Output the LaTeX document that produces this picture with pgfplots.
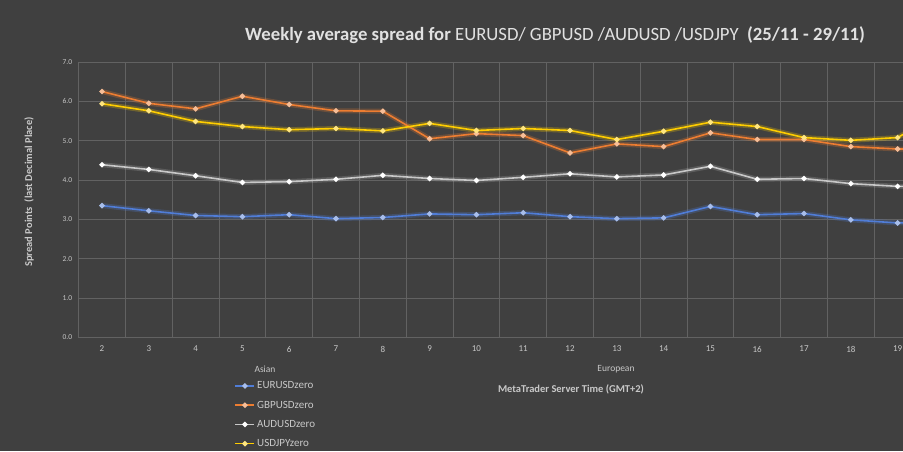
\documentclass[border=0pt]{standalone}
\usepackage{pgfplots}
\usepackage{pgfplotstable}
\pgfplotsset{compat=1.18}
\usepackage{fontspec}
\setmainfont{Carlito}
\definecolor{bg}{RGB}{64,64,64}
\definecolor{gridc}{RGB}{98,98,98}
\definecolor{txt}{RGB}{200,200,200}
\definecolor{ttl}{RGB}{225,225,225}
\definecolor{cEUR}{RGB}{80,125,215}
\definecolor{cGBP}{RGB}{237,125,49}
\definecolor{cAUD}{RGB}{200,200,200}
\definecolor{cJPY}{RGB}{255,205,0}
\pgfplotstableread{
x EUR GBP AUD JPY
2 3.35 6.25 4.39 5.94
3 3.22 5.95 4.27 5.76
4 3.10 5.81 4.11 5.49
5 3.07 6.13 3.94 5.36
6 3.12 5.92 3.96 5.28
7 3.02 5.76 4.02 5.31
8 3.05 5.75 4.12 5.25
9 3.14 5.05 4.04 5.44
10 3.12 5.18 3.99 5.26
11 3.17 5.13 4.07 5.31
12 3.07 4.69 4.16 5.26
13 3.02 4.92 4.08 5.03
14 3.04 4.85 4.13 5.24
15 3.33 5.20 4.35 5.47
16 3.12 5.03 4.02 5.36
17 3.15 5.03 4.04 5.08
18 2.99 4.85 3.91 5.01
19 2.91 4.79 3.84 5.08
20 2.95 4.78 3.85 5.75
}\spread
\begin{document}
\begin{tikzpicture}[x=1pt,y=1pt]
\useasboundingbox (0,0) rectangle (903,451);
\fill[bg] (0,0) rectangle (903,451);
\begin{axis}[
  at={(78.6pt,113.5pt)}, anchor=south west,
  scale only axis, width=824.4pt, height=275.5pt,
  xmin=1.5, xmax=19.115, ymin=0, ymax=7,
  xtick={2,...,19}, ytick={0,1,...,7},
  minor xtick={1.5,2.5,...,18.5},
  grid=both, major x grid style={draw=none},
  major grid style={gridc, line width=0.8pt},
  minor grid style={gridc, line width=0.8pt},
  axis line style={draw=none},
  major tick length=0pt, minor tick length=0pt,
  tick style={draw=none},
  /pgf/number format/assume math mode=true,
  yticklabel style={/pgf/number format/.cd, fixed, fixed zerofill, precision=1, /tikz/.cd, font=\fontsize{7.5}{9}\selectfont, text=txt, xshift=-3pt},
  xticklabel style={font=\fontsize{9}{10}\selectfont, text=txt, yshift=-5pt},
  legend style={at={(0.189,-0.145)}, anchor=north west, draw=none, fill=none,
    text=txt, font=\fontsize{11}{12}\selectfont, row sep=6.6pt,
    legend cell align=left, inner xsep=0pt},
  legend image code/.code={
    \draw[#1, mark=none] (0pt,0pt) -- (19pt,0pt);
    \draw[#1, only marks] plot coordinates {(9.5pt,0pt)};
  },
  every axis plot/.append style={line width=1.6pt, mark=*, mark size=1.8pt},
]
\addplot[cEUR, opacity=0.25, line width=5pt, mark=none, forget plot] table[x=x,y=EUR] {\spread};
\addplot[cGBP, opacity=0.25, line width=5pt, mark=none, forget plot] table[x=x,y=GBP] {\spread};
\addplot[cAUD, opacity=0.2, line width=5pt, mark=none, forget plot] table[x=x,y=AUD] {\spread};
\addplot[cJPY, opacity=0.25, line width=5pt, mark=none, forget plot] table[x=x,y=JPY] {\spread};
\addplot[cEUR, mark options={fill=cEUR!50!white, draw=cEUR!50!white}] table[x=x,y=EUR] {\spread};
\addlegendentry{EURUSDzero}
\addplot[cGBP, mark options={fill=cGBP!50!white, draw=cGBP!50!white}] table[x=x,y=GBP] {\spread};
\addlegendentry{GBPUSDzero}
\addplot[cAUD, mark options={fill=white, draw=white}] table[x=x,y=AUD] {\spread};
\addlegendentry{AUDUSDzero}
\addplot[cJPY, mark options={fill=cJPY!50!white, draw=cJPY!50!white}] table[x=x,y=JPY] {\spread};
\addlegendentry{USDJPYzero}
\end{axis}
\node[text=ttl, font=\fontsize{18.7}{22}\selectfont] at (555,416)
  {\textbf{Weekly average spread for} EURUSD/ GBPUSD /AUDUSD /USDJPY\ \ \textbf{(25/11 - 29/11)}};
\node[text=txt, font=\fontsize{9.5}{11}\selectfont] at (265,82) {Asian};
\node[text=txt, font=\fontsize{9.5}{11}\selectfont] at (616,82) {European};
\node[text=txt, font=\bfseries\fontsize{10.5}{12}\selectfont] at (571,62) {MetaTrader Server Time (GMT+2)};
\node[text=txt, font=\bfseries\fontsize{10.5}{12}\selectfont, rotate=90] at (29,259) {Spread Points\ \ (last Decimal Place)};
\end{tikzpicture}
\end{document}
